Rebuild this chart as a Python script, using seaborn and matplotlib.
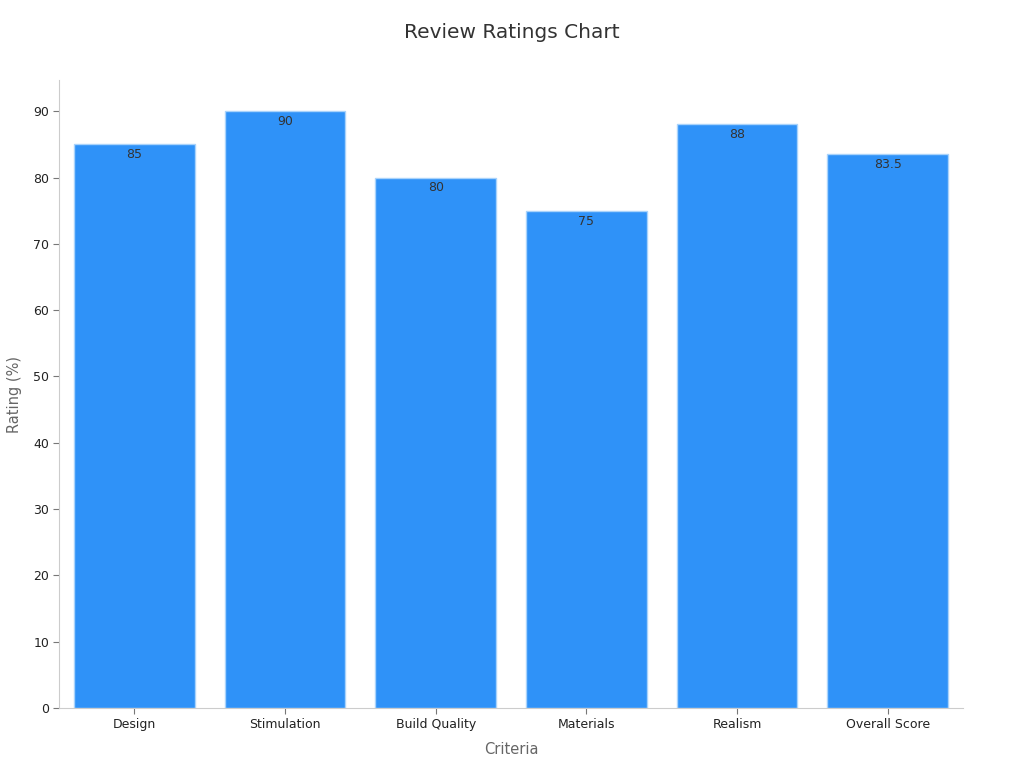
import matplotlib
matplotlib.use('Agg')

import matplotlib.pyplot as plt
import seaborn as sns
import pandas as pd

criteria = ['Design', 'Stimulation', 'Build Quality', 'Materials', 'Realism', 'Overall Score']
ratings = [85, 90, 80, 75, 88, 83.5]

sns.set_style('white', {'xtick.bottom': True, 'ytick.left': True})
plt.rcParams['font.family'] = ['DejaVu Sans']

df = pd.DataFrame({'Criteria': criteria, 'Rating': ratings})

fig = plt.figure(figsize=(10.24, 7.68), dpi=100)
ax = fig.add_axes([0.0576, 0.0781, 0.8828, 0.8177])

sns.barplot(data=df, x='Criteria', y='Rating', color='#2f92f8', saturation=1,
            edgecolor='#a9d3fb', linewidth=1, width=0.8, ax=ax)

# value labels just under each bar top
for i, v in enumerate(ratings):
    ax.text(i, v - 0.6, f'{v:g}', ha='center', va='top', fontsize=9, color='#333333')

ax.set_xlim(-0.5, 5.5)
ax.set_ylim(0, 94.7)
ax.set_yticks(range(0, 91, 10))
ax.set_xlabel('Criteria', fontsize=10.5, color='#666666', labelpad=8)
ax.set_ylabel('Rating (%)', fontsize=10.5, color='#666666', labelpad=8)
ax.tick_params(axis='both', labelsize=9, labelcolor='#222222', color='#777777',
               length=4, width=0.8, pad=3)

sns.despine(ax=ax)
for s in ['left', 'bottom']:
    ax.spines[s].set_color('#cccccc')
    ax.spines[s].set_linewidth(0.8)

fig.suptitle('Review Ratings Chart', fontsize=14.5, color='#333333', y=0.97)

fig.savefig('out.png', dpi=100)
plt.close(fig)
